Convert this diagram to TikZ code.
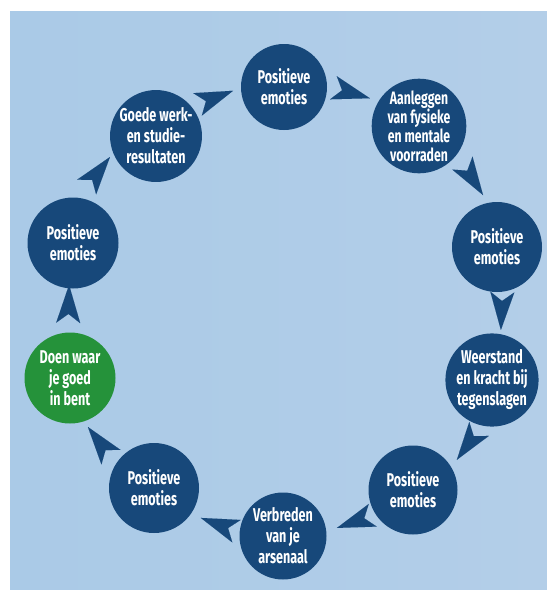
\documentclass[tikz,border=0pt]{standalone}
\usepackage{fontspec}
\setmainfont{Fira Sans}[FakeStretch=0.68]
\usetikzlibrary{arrows.meta,calc}
\definecolor{bgleft}{HTML}{AACAE7}
\definecolor{bgright}{HTML}{B3CEE8}
\definecolor{navy}{HTML}{17487A}
\definecolor{leaf}{HTML}{25923A}
\newcommand\wedgelink[4]{%
  \draw[wedge] ($(#1)!#3-0.04!(#2)!#4pt!90:(#2)$) -- ($(#1)!#3!(#2)!#4pt!90:(#2)$);}
\begin{document}
\begin{tikzpicture}[x=1pt,y=-1pt,
  bub/.style={circle, fill=navy, text=white, inner sep=0pt, minimum size=#1,
    align=center, font=\bfseries\fontsize{18.5}{21}\selectfont},
  tight/.style={font=\bfseries\fontsize{18}{19}\selectfont},
  wedge/.style={navy, line width=0.01pt, -{Stealth[length=38pt,width=24pt,inset=9pt]}}]
\useasboundingbox (0,0) rectangle (547,590);
\fill[white] (0,0) rectangle (547,590);
\shade[left color=bgleft, right color=bgright] (10,11) rectangle (547,590);

\node[bub=86pt] (n1) at (284,87) {Positieve\\emoties};
\node[bub=89pt, tight] (n2) at (419,126) {Aanleggen\\van fysieke\\en mentale\\voorraden};
\node[bub=90pt] (n3) at (497,247) {Positieve\\emoties};
\node[bub=88pt] (n4) at (492,380) {Weerstand\\en kracht bij\\tegenslagen};
\node[bub=89pt] (n5) at (413,490) {Positieve\\emoties};
\node[bub=87pt] (n6) at (283,536) {Verbreden\\van je\\arsenaal};
\node[bub=90pt] (n7) at (154,488) {Positieve\\emoties};
\node[bub=91pt, fill=leaf] (n8) at (70,378) {Doen waar\\je goed\\in bent};
\node[bub=91pt] (n9) at (73,243) {Positieve\\emoties};
\node[bub=86pt] (n10) at (156,136) {Goede werk-\\en studie-\\resultaten};

\wedgelink{n8}{n9}{0.689}{3}
\wedgelink{n9}{n10}{0.669}{23.5}
\wedgelink{n10}{n1}{0.643}{14.7}
\wedgelink{n1}{n2}{0.61}{13}
\wedgelink{n2}{n3}{0.644}{16.4}
\wedgelink{n3}{n4}{0.622}{7}
\wedgelink{n4}{n5}{0.63}{18}
\wedgelink{n5}{n6}{0.612}{10.4}
\wedgelink{n6}{n7}{0.605}{11.7}
\wedgelink{n7}{n8}{0.64}{15.5}
\end{tikzpicture}
\end{document}
